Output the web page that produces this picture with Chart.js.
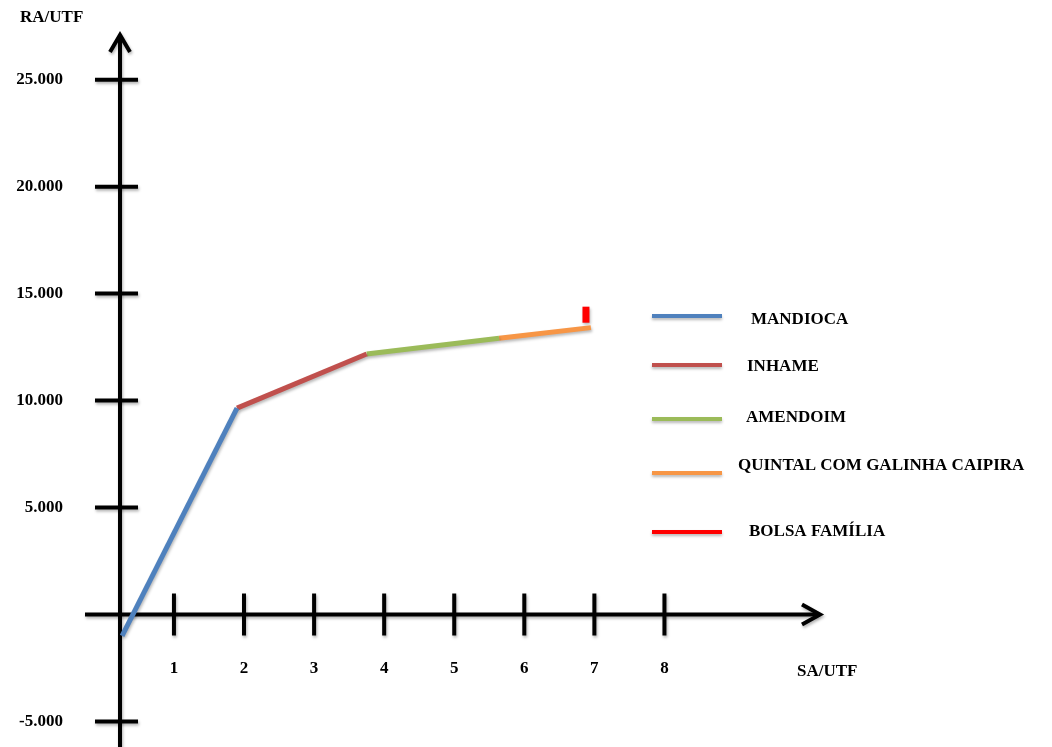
<!DOCTYPE html>
<html lang="pt">
<head>
    <meta charset="UTF-8">
    <title>RA/UTF x SA/UTF</title>
    <style>
        body {
            margin: 0;
            background: #fff;
        }
        #chartBox {
            width: 1052px;
            height: 747px;
        }
    </style>
    <script src="https://cdn.jsdelivr.net/npm/chart.js"></script>
</head>
<body>
    <div id="chartBox">
        <canvas id="raChart"></canvas>
    </div>

    <script>
        // Series (SA/UTF on x, RA/UTF on y)
        const seriesNames = ['MANDIOCA', 'INHAME', 'AMENDOIM', 'QUINTAL COM GALINHA CAIPIRA', 'BOLSA FAMÍLIA'];
        const seriesColors = ['#4F81BD', '#C0504D', '#9BBB59', '#F79646', '#FF0000'];
        const mandiocaX = [0.26, 1.90];
        const mandiocaY = [-1000, 9650];
        const inhameX = [1.90, 3.75];
        const inhameY = [9650, 12180];
        const amendoimX = [3.75, 5.64];
        const amendoimY = [12180, 12910];
        const quintalX = [5.64, 6.95];
        const quintalY = [12910, 13410];
        const bolsaX = [6.88, 6.88];
        const bolsaY = [13640, 14390];

        // Axis ticks
        const xTicks = [1, 2, 3, 4, 5, 6, 7, 8];
        const yTicks = [-5000, 5000, 10000, 15000, 20000, 25000];
        const xTitle = 'SA/UTF';
        const yTitle = 'RA/UTF';

        const FONT = 'bold 17px "Liberation Serif", "Times New Roman", serif';

        function toPoints(xs, ys) {
            return xs.map((x, i) => ({ x: x, y: ys[i] }));
        }

        function fmt(v) {
            const s = Math.abs(v).toString().replace(/\B(?=(\d{3})+(?!\d))/g, '.');
            return (v < 0 ? '-' : '') + s;
        }

        const seriesX = [mandiocaX, inhameX, amendoimX, quintalX, bolsaX];
        const seriesY = [mandiocaY, inhameY, amendoimY, quintalY, bolsaY];

        const datasets = seriesNames.map((name, i) => ({
            label: name,
            data: toPoints(seriesX[i], seriesY[i]),
            borderColor: seriesColors[i],
            backgroundColor: seriesColors[i],
            borderWidth: i === 4 ? 7 : 5,
            borderCapStyle: 'butt',
            pointRadius: 0,
            tension: 0,
            clip: false
        }));

        // Hand-drawn style axes: crossing ticks, arrows, titles
        const axesPlugin = {
            id: 'axesPlugin',
            beforeDatasetsDraw(chart) {
                const ctx = chart.ctx;
                const xs = chart.scales.x;
                const ys = chart.scales.y;
                const ax = chart.chartArea.left;
                const ay = ys.getPixelForValue(0);
                ctx.save();
                ctx.strokeStyle = '#000';
                ctx.lineWidth = 4;
                ctx.lineCap = 'butt';
                ctx.lineJoin = 'miter';
                ctx.shadowColor = 'rgba(0,0,0,0.3)';
                ctx.shadowBlur = 3;
                ctx.shadowOffsetX = 1;
                ctx.shadowOffsetY = 2;

                // y axis + arrow
                ctx.beginPath();
                ctx.moveTo(ax, chart.height);
                ctx.lineTo(ax, 36);
                ctx.stroke();
                ctx.beginPath();
                ctx.moveTo(ax - 10, 52);
                ctx.lineTo(ax, 35);
                ctx.lineTo(ax + 10, 52);
                ctx.stroke();

                // x axis + arrow
                ctx.beginPath();
                ctx.moveTo(85, ay);
                ctx.lineTo(chart.chartArea.right - 2, ay);
                ctx.stroke();
                const r = chart.chartArea.right;
                ctx.beginPath();
                ctx.moveTo(r - 18, ay - 10);
                ctx.lineTo(r, ay);
                ctx.lineTo(r - 18, ay + 10);
                ctx.stroke();

                // y tick marks
                yTicks.forEach(v => {
                    const p = ys.getPixelForValue(v);
                    ctx.beginPath();
                    ctx.moveTo(ax - 25, p);
                    ctx.lineTo(ax + 18, p);
                    ctx.stroke();
                });
                // x tick marks
                xTicks.forEach(v => {
                    const p = xs.getPixelForValue(v);
                    ctx.beginPath();
                    ctx.moveTo(p, ay - 21);
                    ctx.lineTo(p, ay + 21);
                    ctx.stroke();
                });
                ctx.restore();

                // titles
                ctx.save();
                ctx.font = FONT;
                ctx.fillStyle = '#000';
                ctx.textBaseline = 'middle';
                ctx.textAlign = 'left';
                ctx.fillText(yTitle, 20, 18);
                ctx.fillText(xTitle, 797, 672);
                ctx.restore();

                // soft shadow under the series lines
                ctx.save();
                ctx.shadowColor = 'rgba(0,0,0,0.28)';
                ctx.shadowBlur = 3;
                ctx.shadowOffsetX = 1;
                ctx.shadowOffsetY = 2;
            },
            afterDatasetsDraw(chart) {
                chart.ctx.restore();
            },
            afterDraw(chart) {
                // legend placed on the right, like the original drawing
                const ctx = chart.ctx;
                const lineY = [316, 365, 419, 473, 532];
                const textPos = [[751, 320], [747, 367], [746, 418], [738, 466], [749, 532]];
                ctx.save();
                chart.data.datasets.forEach((ds, i) => {
                    ctx.save();
                    ctx.shadowColor = 'rgba(0,0,0,0.28)';
                    ctx.shadowBlur = 3;
                    ctx.shadowOffsetY = 2;
                    ctx.strokeStyle = ds.borderColor;
                    ctx.lineWidth = 4;
                    ctx.beginPath();
                    ctx.moveTo(652, lineY[i]);
                    ctx.lineTo(722, lineY[i]);
                    ctx.stroke();
                    ctx.restore();
                    ctx.font = FONT;
                    ctx.fillStyle = '#000';
                    ctx.textAlign = 'left';
                    ctx.textBaseline = 'middle';
                    ctx.fillText(ds.label, textPos[i][0], textPos[i][1]);
                });
                ctx.restore();
            }
        };

        new Chart(document.getElementById('raChart'), {
            type: 'line',
            data: { datasets: datasets },
            plugins: [axesPlugin],
            options: {
                responsive: true,
                maintainAspectRatio: false,
                animation: false,
                layout: {
                    padding: { left: 0, right: 232, top: 33, bottom: 10 }
                },
                plugins: {
                    legend: { display: false },
                    tooltip: { enabled: false }
                },
                scales: {
                    x: {
                        type: 'linear',
                        min: 0.23,
                        max: 10.22,
                        position: { y: 0 },
                        grid: { display: false, drawTicks: false },
                        border: { display: false },
                        afterBuildTicks: s => { s.ticks = xTicks.map(v => ({ value: v })); },
                        afterFit: s => { s.height = 0; s.paddingLeft = 0; s.paddingRight = 0; },
                        ticks: {
                            padding: 44,
                            color: '#000',
                            maxRotation: 0,
                            autoSkip: false,
                            font: { family: '"Liberation Serif", serif', size: 17, weight: 'bold' },
                            callback: v => String(v)
                        }
                    },
                    y: {
                        type: 'linear',
                        min: -5726,
                        max: 27183,
                        position: 'left',
                        grid: { display: false, drawTicks: false },
                        border: { display: false },
                        afterBuildTicks: s => { s.ticks = yTicks.map(v => ({ value: v })); },
                        afterFit: s => { s.width = 120; s.paddingTop = 0; s.paddingBottom = 0; },
                        ticks: {
                            padding: 57,
                            color: '#000',
                            autoSkip: false,
                            font: { family: '"Liberation Serif", serif', size: 17, weight: 'bold' },
                            callback: v => fmt(v)
                        }
                    }
                }
            }
        });
    </script>
</body>
</html>
